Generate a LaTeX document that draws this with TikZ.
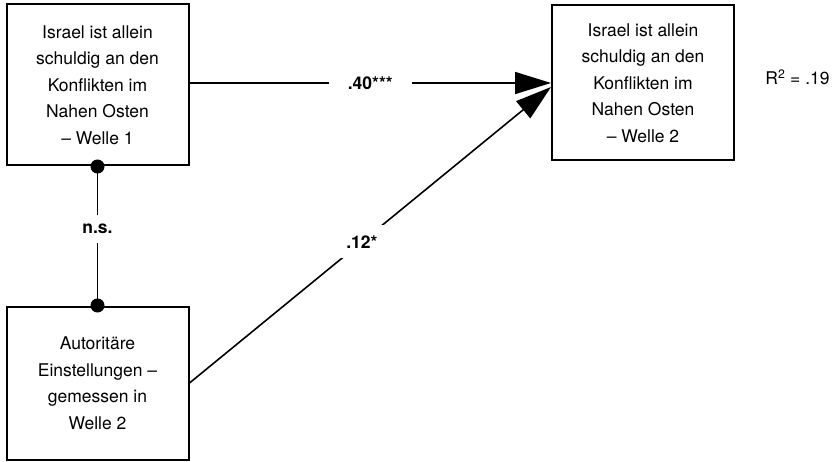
\documentclass[tikz,border=0pt]{standalone}
\usepackage{fontspec}
\setmainfont{TeX Gyre Heros}
\usetikzlibrary{arrows.meta}
\begin{document}
\begin{tikzpicture}[x=1pt,y=-1pt,
  box/.style={draw, line width=2pt, align=center, inner sep=0pt,
    font=\fontsize{17.5}{26.5}\selectfont},
  conn/.style={line width=1.6pt},
  lbl/.style={fill=white, font=\bfseries\fontsize{17.5}{21}\selectfont},
  dot/.style={circle, fill=black, inner sep=0pt, minimum size=14pt},
  arr/.style={conn, -{Triangle[length=36pt,width=22pt]}}]
\useasboundingbox (0,0) rectangle (834,462);
\node[box, minimum width=182pt, minimum height=161pt] (a) at (97.5,85)
  {Israel ist allein\\schuldig an den\\Konflikten im\\Nahen Osten\\– Welle 1};
\node[box, minimum width=182pt, minimum height=153pt] (b) at (97.5,383)
  {Autoritäre\\Einstellungen –\\gemessen in\\Welle 2};
\node[box, minimum width=182pt, minimum height=155pt] (c) at (643,83)
  {Israel ist allein\\schuldig an den\\Konflikten im\\Nahen Osten\\– Welle 2};
\node[font=\fontsize{17.5}{21}\selectfont] (r) at (797.5,77) {R\textsuperscript{2} = .19};
\draw[conn] (a.south) -- node[lbl, pos=0.45, inner xsep=2pt, inner ysep=9pt] (ns) {n.s.} (b.north);
\draw[arr] (b.east) -- node[lbl, pos=0.477, inner sep=10pt] (l2) {.12*} ([yshift=-4pt]c.west);
\draw[arr] (a.east |- c.west) -- node[lbl, midway, inner xsep=19pt, inner ysep=4pt] (l1) {.40***} (c.west);
\node[dot] (d1) at (a.south) {};
\node[dot] (d2) at (b.north) {};
\end{tikzpicture}
\end{document}
